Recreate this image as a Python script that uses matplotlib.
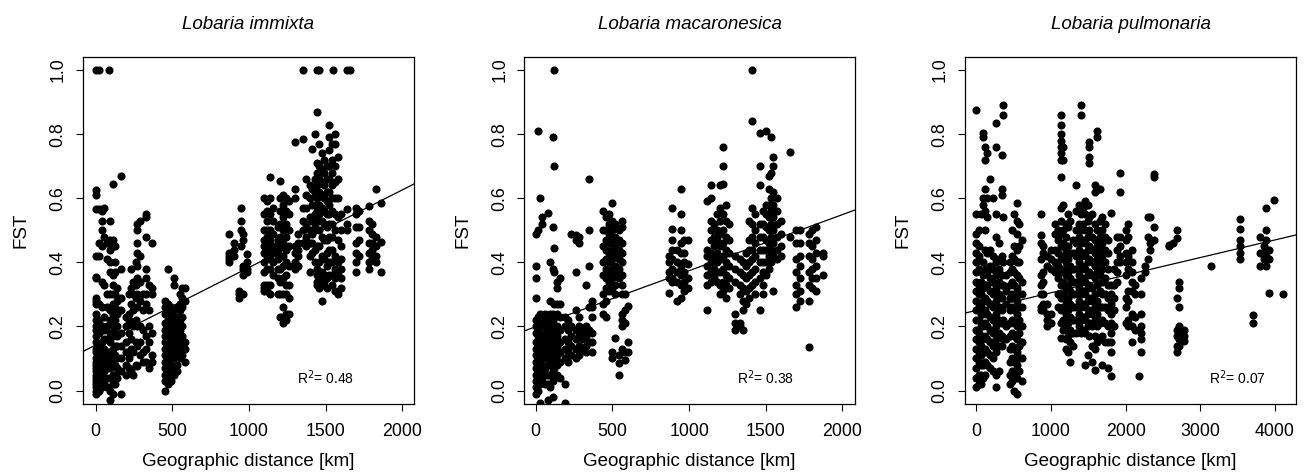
import matplotlib
matplotlib.use("Agg")
import matplotlib.pyplot as plt
import numpy as np

plt.rcParams["font.family"] = ["Liberation Sans", "DejaVu Sans"]

# columns of points: (distance km, [FST values])
IMMIXTA = [
    (5, [1.0, 0.625, 0.61, 0.565, 0.42, 0.355, 0.35, 0.29, 0.28, 0.27, 0.24, 0.22, 0.2, 0.19, 0.17, 0.15,
         0.13, 0.12, 0.1, 0.09, 0.08, 0.07, 0.06, 0.05, 0.04, 0.03, 0.02, 0.01, 0.0, -0.01]),
    (20, [1.0, 0.565, 0.46, 0.42, 0.27, 0.22, 0.18, 0.14, 0.11, 0.08, 0.06, 0.04, 0.02, 0.0]),
    (40, [0.56, 0.53, 0.5, 0.45, 0.34, 0.26, 0.2, 0.15, 0.12, 0.1, 0.07, 0.05, 0.03, 0.01]),
    (55, [0.57, 0.48, 0.33, 0.23, 0.19, 0.16, 0.13, 0.1, 0.08, 0.06, 0.04, 0.02]),
    (75, [0.46, 0.41, 0.3, 0.26, 0.2, 0.16, 0.12, 0.09, 0.07, 0.04, 0.01]),
    (88, [1.0]),
    (95, [0.53, 0.47, 0.44, 0.4, 0.37, 0.3, 0.25, 0.22, 0.18, 0.15, 0.12, 0.1, 0.07, 0.04, 0.0, -0.03]),
    (110, [0.645, 0.47, 0.45, 0.36, 0.33, 0.3, 0.27, 0.24, 0.2, 0.17, 0.13, 0.1, 0.08, 0.05, 0.02, -0.01]),
    (125, [0.45, 0.4, 0.37, 0.3, 0.26, 0.22, 0.18, 0.14, 0.11, 0.08, 0.05, 0.02]),
    (140, [0.32, 0.28, 0.24, 0.2, 0.17, 0.14, 0.1, 0.07, 0.04]),
    (165, [0.67, 0.38, 0.29, 0.25, 0.18, 0.14, 0.1, 0.06, -0.01]),
    (195, [0.23, 0.2, 0.15, 0.12, 0.08, 0.05]),
    (215, [0.3, 0.24, 0.22, 0.18, 0.12, 0.1, 0.07]),
    (230, [0.38, 0.32, 0.27, 0.16, 0.13, 0.06]),
    (245, [0.34, 0.3, 0.25, 0.2, 0.12, 0.05]),
    (260, [0.4, 0.33, 0.29, 0.22, 0.15, 0.08]),
    (270, [0.52, 0.5, 0.46, 0.43, 0.39, 0.35, 0.3, 0.26, 0.2, 0.14, 0.075]),
    (290, [0.53, 0.42, 0.34, 0.28, 0.2, 0.15, 0.11]),
    (310, [0.3, 0.25, 0.19, 0.12, 0.09]),
    (330, [0.55, 0.54, 0.48, 0.38, 0.35, 0.3, 0.27, 0.17, 0.13, 0.09]),
    (345, [0.33, 0.25, 0.2, 0.15, 0.07]),
    (365, [0.46, 0.32, 0.3, 0.18, 0.11, 0.09]),
    (450, [0.28, 0.26, 0.24, 0.21, 0.19, 0.17, 0.15, 0.13, 0.11, 0.09, 0.07, 0.05, 0.03, 0.0]),
    (470, [0.38, 0.27, 0.25, 0.22, 0.2, 0.18, 0.16, 0.14, 0.12, 0.1, 0.08, 0.06, 0.04, 0.02]),
    (490, [0.26, 0.24, 0.22, 0.2, 0.18, 0.16, 0.14, 0.12, 0.1, 0.08, 0.06, 0.03]),
    (510, [0.35, 0.33, 0.25, 0.22, 0.19, 0.17, 0.15, 0.12, 0.1, 0.07, 0.05]),
    (530, [0.26, 0.23, 0.2, 0.17, 0.14, 0.11, 0.08, 0.06]),
    (550, [0.3, 0.27, 0.25, 0.22, 0.19, 0.16, 0.13, 0.1]),
    (565, [0.32, 0.29, 0.26, 0.23, 0.2, 0.17, 0.14, 0.11]),
    (585, [0.32, 0.28, 0.15, 0.13, 0.09]),
    (870, [0.49, 0.43, 0.42, 0.41, 0.4]),
    (900, [0.46, 0.44, 0.42]),
    (935, [0.31, 0.3, 0.29]),
    (950, [0.57, 0.53, 0.5, 0.45, 0.3]),
    (960, [0.49, 0.47, 0.39, 0.38, 0.36, 0.3]),
    (990, [0.425, 0.4, 0.38, 0.37]),
    (1100, [0.6, 0.55, 0.5, 0.47, 0.45, 0.43, 0.4, 0.37, 0.33, 0.32, 0.31]),
    (1120, [0.59, 0.56, 0.53, 0.5, 0.48, 0.45, 0.42, 0.38, 0.33, 0.31]),
    (1140, [0.665, 0.6, 0.55, 0.5, 0.47, 0.44, 0.41, 0.38, 0.33, 0.3]),
    (1160, [0.57, 0.53, 0.49, 0.45, 0.43, 0.4, 0.36]),
    (1190, [0.51, 0.47, 0.44, 0.41, 0.38, 0.35, 0.3]),
    (1200, [0.655, 0.6, 0.56, 0.52, 0.48, 0.45, 0.42, 0.38, 0.34, 0.3, 0.23]),
    (1220, [0.61, 0.58, 0.54, 0.5, 0.46, 0.42, 0.39, 0.35, 0.3, 0.26, 0.21, 0.23]),
    (1240, [0.6, 0.56, 0.52, 0.48, 0.44, 0.4, 0.36, 0.33, 0.3, 0.24, 0.22]),
    (1260, [0.59, 0.55, 0.5, 0.45, 0.39, 0.33, 0.29, 0.24]),
    (1300, [0.775, 0.63, 0.6, 0.45, 0.43, 0.4, 0.38]),
    (1320, [0.49, 0.46, 0.44, 0.42, 0.39]),
    (1350, [1.0, 0.785, 0.57, 0.53, 0.5, 0.46]),
    (1370, [0.66, 0.61, 0.57, 0.52, 0.48, 0.45]),
    (1400, [0.64, 0.6, 0.54, 0.5, 0.46, 0.42, 0.37]),
    (1410, [0.755, 0.63, 0.58, 0.53, 0.49, 0.46, 0.43]),
    (1430, [0.8, 0.66, 0.62, 0.58, 0.55, 0.52, 0.5, 0.44, 0.4]),
    (1445, [1.0, 0.87, 0.71, 0.68, 0.64, 0.6, 0.56, 0.53, 0.45, 0.38, 0.36, 0.34, 0.33]),
    (1460, [1.0, 0.77, 0.7, 0.66, 0.62, 0.58, 0.55, 0.5, 0.45, 0.4, 0.35, 0.32]),
    (1475, [0.74, 0.69, 0.65, 0.61, 0.57, 0.53, 0.48, 0.42, 0.37, 0.33, 0.28]),
    (1490, [0.72, 0.68, 0.64, 0.6, 0.56, 0.52, 0.47, 0.41, 0.36, 0.34]),
    (1510, [0.7, 0.66, 0.62, 0.59, 0.55, 0.51, 0.47, 0.43, 0.39, 0.35, 0.32]),
    (1520, [0.83, 0.79, 0.75, 0.7, 0.66, 0.62, 0.58, 0.55, 0.52, 0.48, 0.44, 0.4, 0.36]),
    (1540, [0.77, 0.72, 0.68, 0.64, 0.6, 0.56, 0.52, 0.48, 0.44, 0.4, 0.36, 0.33]),
    (1550, [1.0]),
    (1560, [0.8, 0.77, 0.7, 0.65, 0.6, 0.55, 0.5, 0.42, 0.38, 0.35, 0.31]),
    (1580, [0.73, 0.66, 0.6, 0.54, 0.47, 0.4, 0.36, 0.3]),
    (1600, [0.55, 0.5, 0.45, 0.41, 0.38, 0.35, 0.32]),
    (1640, [1.0, 0.565, 0.52, 0.5]),
    (1660, [1.0]),
    (1700, [0.57, 0.55, 0.51, 0.46, 0.43, 0.4, 0.37]),
    (1720, [0.56, 0.51, 0.47, 0.42]),
    (1780, [0.575, 0.53, 0.5, 0.46, 0.43, 0.4, 0.38]),
    (1800, [0.52, 0.49, 0.46, 0.44, 0.41]),
    (1830, [0.63, 0.48, 0.45, 0.42, 0.4]),
    (1860, [0.585, 0.465, 0.37]),
]

MACARONESICA = [
    (0, [0.49, 0.39, 0.35, 0.29, 0.22, 0.2, 0.18, 0.15, 0.13, 0.11, 0.09, 0.07, 0.05, 0.03, 0.01, -0.01]),
    (15, [0.81, 0.5, 0.23, 0.21, 0.19, 0.17, 0.14, 0.12, 0.1, 0.08, 0.06, 0.04, 0.02, 0.0]),
    (25, [0.6, 0.24, 0.22, 0.2, 0.16, 0.13, 0.1, 0.07, 0.05, 0.02, -0.04]),
    (40, [0.54, 0.52, 0.23, 0.2, 0.17, 0.14, 0.11, 0.08, 0.06, 0.03]),
    (60, [0.24, 0.21, 0.18, 0.15, 0.12, 0.1, 0.07, 0.05, 0.02]),
    (80, [0.555, 0.22, 0.19, 0.16, 0.13, 0.1, 0.08, 0.05, 0.02, -0.03]),
    (95, [0.4, 0.28, 0.24, 0.21, 0.17, 0.14, 0.11, 0.08, 0.05, 0.01]),
    (110, [0.79, 0.51, 0.38, 0.24, 0.22, 0.19, 0.15, 0.12, 0.09, 0.06, 0.03, -0.02]),
    (120, [1.0, 0.7, 0.445, 0.37, 0.27, 0.23, 0.2, 0.16, 0.13, 0.1, 0.07, 0.04]),
    (140, [0.34, 0.32, 0.27, 0.24, 0.2, 0.17, 0.14, 0.11, 0.08, 0.05]),
    (160, [0.35, 0.27, 0.23, 0.19, 0.15, 0.12, 0.09, 0.04]),
    (190, [0.23, 0.2, 0.16, 0.13, 0.1, 0.02, -0.04]),
    (210, [0.22, 0.19, 0.15, 0.12, 0.09]),
    (230, [0.49, 0.2, 0.17, 0.14, 0.11]),
    (260, [0.485, 0.47, 0.37, 0.25, 0.19, 0.16, 0.13, 0.1]),
    (280, [0.48, 0.46, 0.23, 0.2, 0.17, 0.14, 0.11]),
    (300, [0.19, 0.16, 0.13]),
    (330, [0.33, 0.2, 0.17, 0.14, 0.12]),
    (345, [0.66, 0.5, 0.39, 0.26, 0.19, 0.15]),
    (365, [0.28, 0.26, 0.23, 0.18, 0.15, 0.12]),
    (440, [0.56, 0.5, 0.45, 0.4, 0.36, 0.3, 0.27, 0.24]),
    (460, [0.54, 0.5, 0.47, 0.44, 0.41, 0.38, 0.35, 0.32, 0.28, 0.23]),
    (480, [0.55, 0.52, 0.49, 0.46, 0.43, 0.4, 0.37, 0.34, 0.31]),
    (500, [0.585, 0.53, 0.5, 0.47, 0.44, 0.41, 0.38, 0.35, 0.32, 0.12, 0.1]),
    (520, [0.52, 0.48, 0.45, 0.42, 0.39, 0.36, 0.33, 0.3, 0.165]),
    (540, [0.5, 0.47, 0.44, 0.41, 0.38, 0.35, 0.11, 0.085, 0.05]),
    (565, [0.53, 0.51, 0.46, 0.43, 0.4, 0.36, 0.33, 0.3, 0.24, 0.22, 0.2, 0.13]),
    (585, [0.3, 0.25, 0.21, 0.12, 0.095]),
    (600, [0.265, 0.15, 0.12]),
    (870, [0.42, 0.4, 0.37, 0.35, 0.305]),
    (890, [0.57, 0.505, 0.47, 0.44, 0.41, 0.38, 0.35, 0.34]),
    (920, [0.44, 0.4, 0.37, 0.34, 0.28]),
    (950, [0.63, 0.55, 0.5, 0.46, 0.43, 0.39, 0.36, 0.33, 0.29]),
    (970, [0.47, 0.43, 0.4, 0.37, 0.34, 0.31]),
    (990, [0.47, 0.395, 0.35, 0.32]),
    (1120, [0.59, 0.44, 0.42, 0.39, 0.36, 0.33, 0.25]),
    (1140, [0.64, 0.6, 0.53, 0.5, 0.47, 0.43, 0.4, 0.37, 0.34]),
    (1160, [0.52, 0.48, 0.45, 0.42, 0.38, 0.35]),
    (1180, [0.55, 0.5, 0.47, 0.43, 0.4, 0.37, 0.34]),
    (1200, [0.64, 0.57, 0.53, 0.49, 0.45, 0.41, 0.37, 0.33, 0.3]),
    (1220, [0.76, 0.7, 0.645, 0.55, 0.5, 0.46, 0.42, 0.38, 0.34, 0.31]),
    (1240, [0.58, 0.53, 0.48, 0.44, 0.4, 0.36, 0.33, 0.29]),
    (1260, [0.52, 0.47, 0.43, 0.39, 0.35, 0.32]),
    (1300, [0.42, 0.38, 0.34, 0.24, 0.21, 0.19]),
    (1330, [0.41, 0.37, 0.33, 0.3, 0.21, 0.2]),
    (1350, [0.4, 0.36, 0.32, 0.28, 0.25, 0.19]),
    (1370, [0.43, 0.39, 0.35, 0.31, 0.27]),
    (1390, [0.53, 0.47, 0.44, 0.4, 0.36, 0.32, 0.29]),
    (1410, [1.0, 0.84, 0.57, 0.52, 0.48, 0.44, 0.41, 0.37, 0.33]),
    (1430, [0.55, 0.5, 0.46, 0.42, 0.38, 0.34, 0.3]),
    (1460, [0.805, 0.64, 0.7, 0.52, 0.48, 0.44, 0.4, 0.35, 0.25]),
    (1480, [0.56, 0.52, 0.48, 0.44, 0.4, 0.37, 0.33, 0.3]),
    (1500, [0.81, 0.58, 0.55, 0.51, 0.47, 0.44, 0.4, 0.36]),
    (1520, [0.67, 0.63, 0.58, 0.54, 0.5, 0.46, 0.42, 0.38]),
    (1535, [0.79, 0.68, 0.6, 0.56, 0.52, 0.48, 0.44, 0.4]),
    (1550, [0.73, 0.7, 0.62, 0.58, 0.54, 0.5, 0.46, 0.42, 0.31]),
    (1570, [0.6, 0.56, 0.52, 0.48, 0.44, 0.41]),
    (1600, [0.53, 0.49, 0.45, 0.42]),
    (1660, [0.745, 0.48]),
    (1700, [0.5, 0.46, 0.41, 0.37, 0.33, 0.3, 0.26]),
    (1720, [0.5, 0.46, 0.42, 0.39, 0.35, 0.31, 0.28]),
    (1780, [0.49, 0.46, 0.42, 0.37, 0.33, 0.28, 0.135]),
    (1800, [0.5, 0.45, 0.41, 0.38, 0.35, 0.32]),
    (1830, [0.51, 0.47, 0.43, 0.39, 0.35, 0.31]),
    (1870, [0.43, 0.42, 0.36]),
]

PULMONARIA = [
    (0, [0.875, 0.55, 0.49, 0.46, 0.43, 0.4, 0.37, 0.34, 0.31, 0.28, 0.25, 0.22, 0.19, 0.16, 0.13, 0.1,
         0.07, 0.04, 0.01]),
    (30, [0.5, 0.45, 0.42, 0.38, 0.33, 0.3, 0.26, 0.22, 0.18, 0.15, 0.12, 0.09, 0.05, 0.02]),
    (60, [0.55, 0.34, 0.3, 0.27, 0.24, 0.2, 0.17, 0.14, 0.11, 0.08, 0.05, 0.02]),
    (90, [0.805, 0.79, 0.6, 0.58, 0.4, 0.36, 0.32, 0.28, 0.24, 0.2, 0.16, 0.12, 0.08, 0.04]),
    (120, [0.76, 0.72, 0.63, 0.56, 0.5, 0.44, 0.38, 0.33, 0.29, 0.25, 0.21, 0.17, 0.13, 0.09, 0.05]),
    (150, [0.74, 0.6, 0.54, 0.43, 0.37, 0.33, 0.28, 0.24, 0.2, 0.16, 0.12, 0.08]),
    (180, [0.66, 0.44, 0.39, 0.35, 0.31, 0.27, 0.23, 0.19, 0.15, 0.11, 0.07]),
    (220, [0.6, 0.42, 0.38, 0.34, 0.3, 0.26, 0.22, 0.18, 0.14, 0.1, 0.06]),
    (260, [0.55, 0.48, 0.4, 0.36, 0.32, 0.28, 0.24, 0.2, 0.16, 0.12, 0.05, 0.01]),
    (270, [0.835, 0.76, 0.41, 0.37, 0.33, 0.3, 0.26, 0.22, 0.18, 0.14]),
    (310, [0.46, 0.38, 0.34, 0.3, 0.26, 0.22, 0.18, 0.14, 0.06]),
    (340, [0.735, 0.63, 0.61, 0.42, 0.36, 0.33, 0.29, 0.25, 0.21, 0.17, 0.14]),
    (360, [0.89, 0.86, 0.54, 0.4, 0.33, 0.22, 0.16]),
    (400, [0.36, 0.31, 0.27, 0.2, 0.16]),
    (450, [0.4, 0.37, 0.33, 0.29, 0.25, 0.21, 0.17, 0.13, 0.09, 0.05, 0.02]),
    (480, [0.5, 0.42, 0.38, 0.34, 0.3, 0.26, 0.22, 0.18, 0.14, 0.1, 0.06, 0.03]),
    (510, [0.55, 0.45, 0.41, 0.37, 0.33, 0.29, 0.25, 0.21, 0.17, 0.13, 0.09, 0.05, 0.0]),
    (540, [0.585, 0.53, 0.49, 0.44, 0.4, 0.36, 0.32, 0.28, 0.24, 0.2, 0.16, 0.12, 0.08, 0.04, -0.01]),
    (570, [0.52, 0.45, 0.4, 0.35, 0.3, 0.26, 0.22, 0.18, 0.14, 0.1, 0.06]),
    (610, [0.47, 0.34, 0.3, 0.26, 0.2, 0.15, 0.1, 0.03]),
    (870, [0.55, 0.485, 0.46, 0.41, 0.36, 0.33, 0.3, 0.26, 0.25]),
    (900, [0.45, 0.43, 0.37, 0.34, 0.3, 0.27, 0.25]),
    (950, [0.42, 0.39, 0.27, 0.24, 0.22, 0.2]),
    (1000, [0.44, 0.41, 0.38, 0.24, 0.21]),
    (1050, [0.52, 0.49, 0.44, 0.4, 0.37]),
    (1100, [0.5, 0.47, 0.43, 0.39, 0.35, 0.3, 0.26]),
    (1130, [0.86, 0.83, 0.8, 0.78, 0.76, 0.74, 0.72, 0.665, 0.57, 0.53, 0.49, 0.45, 0.41, 0.37, 0.33,
            0.29, 0.25, 0.21, 0.165]),
    (1160, [0.76, 0.72, 0.58, 0.5, 0.46, 0.42, 0.38, 0.34, 0.3, 0.26, 0.22, 0.19]),
    (1200, [0.52, 0.48, 0.44, 0.4, 0.36, 0.32, 0.28, 0.24, 0.2, 0.16, 0.13]),
    (1230, [0.55, 0.51, 0.45, 0.41, 0.37, 0.33, 0.29, 0.25, 0.21, 0.17, 0.12]),
    (1260, [0.53, 0.43, 0.39, 0.35, 0.31, 0.27, 0.23, 0.19, 0.15, 0.09]),
    (1300, [0.47, 0.43, 0.38, 0.34, 0.3, 0.26, 0.22, 0.18, 0.14]),
    (1330, [0.64, 0.56, 0.5, 0.46, 0.42, 0.38, 0.34, 0.3, 0.26, 0.22, 0.18]),
    (1370, [0.58, 0.52, 0.48, 0.44, 0.4, 0.36, 0.32, 0.28, 0.24, 0.2]),
    (1400, [0.89, 0.86, 0.55, 0.5, 0.46, 0.42, 0.38, 0.34, 0.3, 0.26, 0.22, 0.18]),
    (1430, [0.57, 0.52, 0.47, 0.43, 0.39, 0.35, 0.31, 0.27, 0.23, 0.19]),
    (1460, [0.59, 0.55, 0.5, 0.46, 0.42, 0.38, 0.34, 0.3, 0.26, 0.22, 0.18, 0.08]),
    (1490, [0.58, 0.53, 0.48, 0.44, 0.4, 0.36, 0.32, 0.28, 0.24, 0.2, 0.11]),
    (1510, [0.775, 0.76, 0.73, 0.71, 0.54, 0.5, 0.45, 0.41, 0.37, 0.33, 0.29, 0.25, 0.21, 0.17]),
    (1550, [0.55, 0.48, 0.44, 0.4, 0.36, 0.32, 0.28, 0.24, 0.2, 0.14, 0.09]),
    (1590, [0.64, 0.62, 0.52, 0.47, 0.43, 0.39, 0.35, 0.3, 0.26, 0.22, 0.17, 0.13, 0.065]),
    (1620, [0.81, 0.79, 0.5, 0.45, 0.41, 0.37, 0.33, 0.28, 0.24, 0.2, 0.15]),
    (1650, [0.63, 0.53, 0.48, 0.44, 0.4, 0.36, 0.31, 0.26, 0.21, 0.16]),
    (1690, [0.54, 0.5, 0.46, 0.42, 0.38, 0.34, 0.3, 0.26, 0.22, 0.17, 0.08]),
    (1730, [0.52, 0.48, 0.44, 0.4, 0.35, 0.3, 0.26, 0.21, 0.15]),
    (1770, [0.47, 0.43, 0.38, 0.33, 0.29, 0.25, 0.2, 0.15, 0.07]),
    (1800, [0.555, 0.33, 0.3, 0.27, 0.24, 0.21, 0.18, 0.15, 0.12, 0.045]),
    (1840, [0.38, 0.33, 0.29, 0.25, 0.2]),
    (1880, [0.48, 0.44, 0.4, 0.37, 0.34]),
    (1920, [0.68, 0.62, 0.48, 0.45, 0.42, 0.4]),
    (2000, [0.5, 0.47, 0.43, 0.4, 0.36, 0.29, 0.26, 0.21]),
    (2030, [0.52, 0.48, 0.42, 0.38, 0.31, 0.28, 0.22, 0.2]),
    (2080, [0.44, 0.4, 0.37, 0.34, 0.31, 0.24, 0.2, 0.15]),
    (2120, [0.33, 0.3, 0.23, 0.19]),
    (2180, [0.045]),
    (2210, [0.35, 0.3, 0.24, 0.2, 0.18, 0.16, 0.12]),
    (2260, [0.39, 0.37]),
    (2300, [0.54, 0.48, 0.41]),
    (2330, [0.54, 0.46, 0.44]),
    (2380, [0.675, 0.665, 0.51, 0.47]),
    (2580, [0.45, 0.455]),
    (2630, [0.46]),
    (2690, [0.5, 0.475, 0.29, 0.19, 0.17, 0.14, 0.12]),
    (2720, [0.34, 0.32, 0.26, 0.2, 0.18, 0.16, 0.14]),
    (2780, [0.19, 0.17, 0.155]),
    (3140, [0.39]),
    (3530, [0.535, 0.505, 0.47, 0.45, 0.43, 0.41]),
    (3700, [0.235, 0.21]),
    (3800, [0.48, 0.43, 0.39]),
    (3850, [0.45, 0.43, 0.41]),
    (3880, [0.57, 0.5, 0.47, 0.44, 0.42, 0.39]),
    (3920, [0.44, 0.41, 0.305]),
    (3990, [0.595]),
    (4110, [0.3]),
]

SPECIES = ["Lobaria immixta", "Lobaria macaronesica", "Lobaria pulmonaria"]
# regression lines (intercept, slope per km) and R2
FITS = [(0.142, 0.000242), (0.199, 0.000175), (0.250, 0.000055)]
R2 = ["0.48", "0.38", "0.07"]
XLIMS = [(-85, 2076), (-74, 2082), (-155, 4285)]
XTICKS = [[0, 500, 1000, 1500, 2000], [0, 500, 1000, 1500, 2000], [0, 1000, 2000, 3000, 4000]]
R2_X = [1500, 1500, 3500]

fig = plt.figure(figsize=(13.04, 4.76), dpi=100)
lefts = [0.0634, 0.4021, 0.7398]
widths = [0.254, 0.2536, 0.2543]

for i, cols in enumerate([IMMIXTA, MACARONESICA, PULMONARIA]):
    ax = fig.add_axes([lefts[i], 0.1513, widths[i], 0.7284])
    xs = np.concatenate([[x] * len(ys) for x, ys in cols])
    ys = np.concatenate([ys for x, ys in cols])
    ax.scatter(xs, ys, s=34, color="black", linewidths=0, zorder=2)
    b, m = FITS[i]
    ax.axline((0, b), slope=m, color="black", lw=0.9, zorder=3)
    ax.set_xlim(*XLIMS[i]); ax.set_ylim(-0.042, 1.04)
    ax.set_xticks(XTICKS[i])
    ax.set_yticks([0.0, 0.2, 0.4, 0.6, 0.8, 1.0])
    ax.set_yticklabels(["0.0", "0.2", "0.4", "0.6", "0.8", "1.0"], rotation=90, va="center")
    ax.tick_params(direction="out", length=5, width=0.8, labelsize=12.8)
    ax.tick_params(axis="x", pad=9)
    ax.tick_params(axis="y", pad=6.5)
    for sp in ax.spines.values():
        sp.set_linewidth(0.9)
    ax.text(R2_X[i], 0.04, "R$^2$= " + R2[i], ha="center", va="center", fontsize=10)
    ax.set_title(SPECIES[i], fontsize=13.5, style="italic", pad=20.5)
    ax.set_xlabel("Geographic distance [km]", fontsize=13.5, labelpad=9)
    ax.set_ylabel("FST", fontsize=13.5, labelpad=14.5)

fig.savefig("out.png", dpi=100)
